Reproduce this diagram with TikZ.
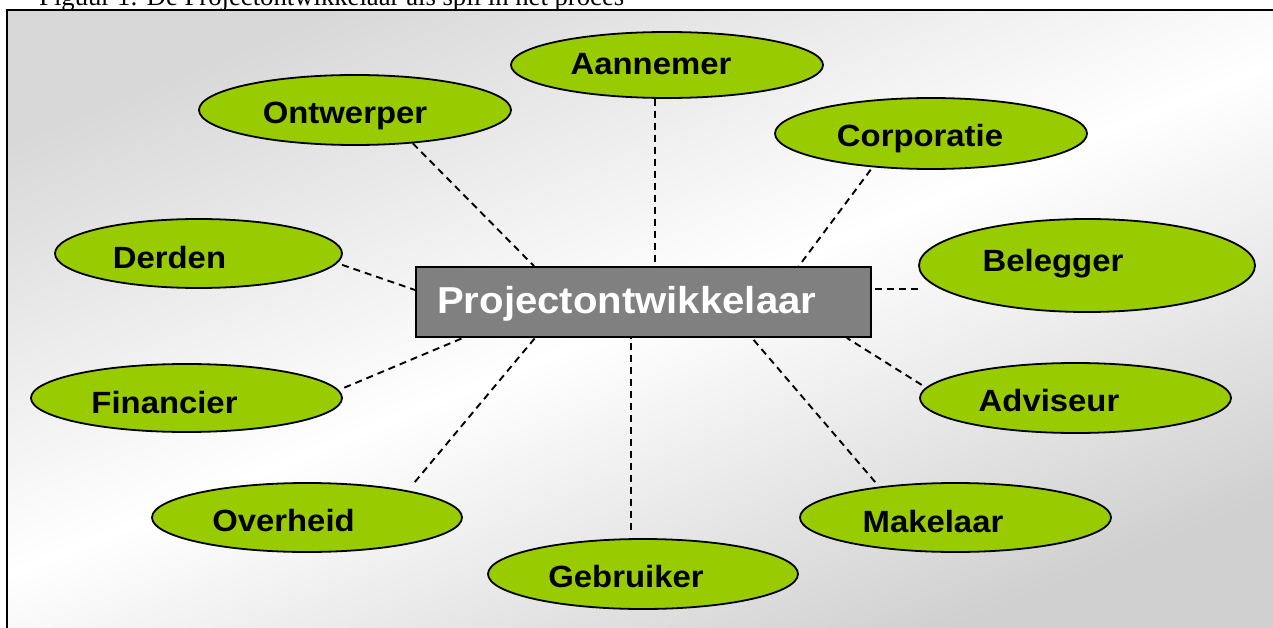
\documentclass[tikz,border=0pt]{standalone}
\usepackage{fontspec}
\setmainfont{Liberation Serif}
\newfontfamily\labelsans[FakeStretch=1.07]{Liberation Sans}
\usetikzlibrary{shapes.geometric,calc}
\definecolor{leaf}{HTML}{99CC00}
\definecolor{hub}{HTML}{808080}
\definecolor{shadeA}{HTML}{D8D8D8}
\definecolor{shadeB}{HTML}{D0D0D0}
% panel background: grey at bottom right and top left, white band between
\pgfdeclareverticalshading{panelshade}{100bp}{color(0bp)=(shadeB); color(25bp)=(shadeB);
  color(50bp)=(white); color(75bp)=(shadeA); color(100bp)=(shadeA)}
\begin{document}
\begin{tikzpicture}[x=1pt,y=-1pt,
  party/.style={ellipse, draw=black, line width=1.8pt, fill=leaf, inner sep=0pt},
  partytext/.style={anchor=base, inner sep=0pt, text=black,
    font=\labelsans\bfseries\fontsize{30.7}{36}\selectfont},
  link/.style={draw=black, line width=1.9pt, dash pattern=on 7pt off 5pt},
]
\clip (0,0) rectangle (1273,628);
\fill[white] (0,0) rectangle (1273,628);

% caption above the frame
\node[anchor=base west, inner sep=0pt, font=\fontsize{26.7}{30}\selectfont] (caption) at (39,6)
  {Figuur 1: De Projectontwikkelaar als spil in het proces};

% shaded panel with its frame
\shade[shading=panelshade, shading angle=22] (8,11) rectangle (1273,628);
\draw[line width=2pt] (7,10) rectangle (1300,660);

% central box
\node[draw=black, line width=1.8pt, fill=hub, minimum width=455pt, minimum height=70pt, inner sep=0pt]
  (box) at (643.5,302) {};
\node[anchor=base west, inner sep=0pt, text=white,
  font=\labelsans\bfseries\fontsize{37.5}{42}\selectfont] (boxtext) at (437,313) {Projectontwikkelaar};

% surrounding parties
\node[party, minimum width=312pt, minimum height=66pt] (aan) at (667,65) {};
\node[party, minimum width=312pt, minimum height=70pt] (ont) at (355,110) {};
\node[party, minimum width=312pt, minimum height=71pt] (cor) at (931,133.5) {};
\node[party, minimum width=287pt, minimum height=69pt] (der) at (198.5,253.5) {};
\node[party, minimum width=336pt, minimum height=93pt] (bel) at (1087,265.5) {};
\node[party, minimum width=311pt, minimum height=68pt] (fin) at (186.5,398) {};
\node[party, minimum width=311pt, minimum height=70pt] (adv) at (1075.5,398) {};
\node[party, minimum width=310pt, minimum height=69pt] (ovh) at (307,517.5) {};
\node[party, minimum width=311pt, minimum height=69pt] (mak) at (955.5,517.5) {};
\node[party, minimum width=310pt, minimum height=70pt] (gbr) at (643,574) {};

\node[partytext] (aanT) at (651,75) {Aannemer};
\node[partytext] (ontT) at (345,124) {Ontwerper};
\node[partytext] (corT) at (920,147) {Corporatie};
\node[partytext] (derT) at (169.5,268) {Derden};
\node[partytext] (belT) at (1053,271) {Belegger};
\node[partytext] (finT) at (164.5,413) {Financier};
\node[partytext] (advT) at (1049,411) {Adviseur};
\node[partytext] (ovhT) at (283.5,531) {Overheid};
\node[partytext] (makT) at (933,532) {Makelaar};
\node[partytext] (gbrT) at (626,587) {Gebruiker};

% dashed links to the central box
\draw[link] (ont.-30.2) -- ($(box.north west)!0.2604!(box.north east)$);
\draw[link] (aan.-109.5) -- (aan.-109.5 |- box.north);
\draw[link, shorten <=3pt] (cor.-150.2) -- ($(box.north west)!0.840!(box.north east)$);
\draw[link, shorten <=5pt] (der.-4.5) -- ($(box.north west)!0.333!(box.south west)$);
\draw[link, shorten <=22pt] (bel.189.6) -- (bel.189.6 -| box.east);
\draw[link, shorten <=6pt] (fin.3.65) -- ($(box.south west)!0.105!(box.south east)$);
\draw[link, shorten <=5pt] (adv.176.5) -- ($(box.south west)!0.945!(box.south east)$);
\draw[link, shorten <=11pt] (ovh.15.2) -- ($(box.south west)!0.2626!(box.south east)$);
\draw[link, shorten <=8pt] (gbr.108.5) -- (gbr.108.5 |- box.south);
\draw[link, shorten <=6pt] (mak.158.95) -- ($(box.south west)!0.7374!(box.south east)$);
\end{tikzpicture}
\end{document}
